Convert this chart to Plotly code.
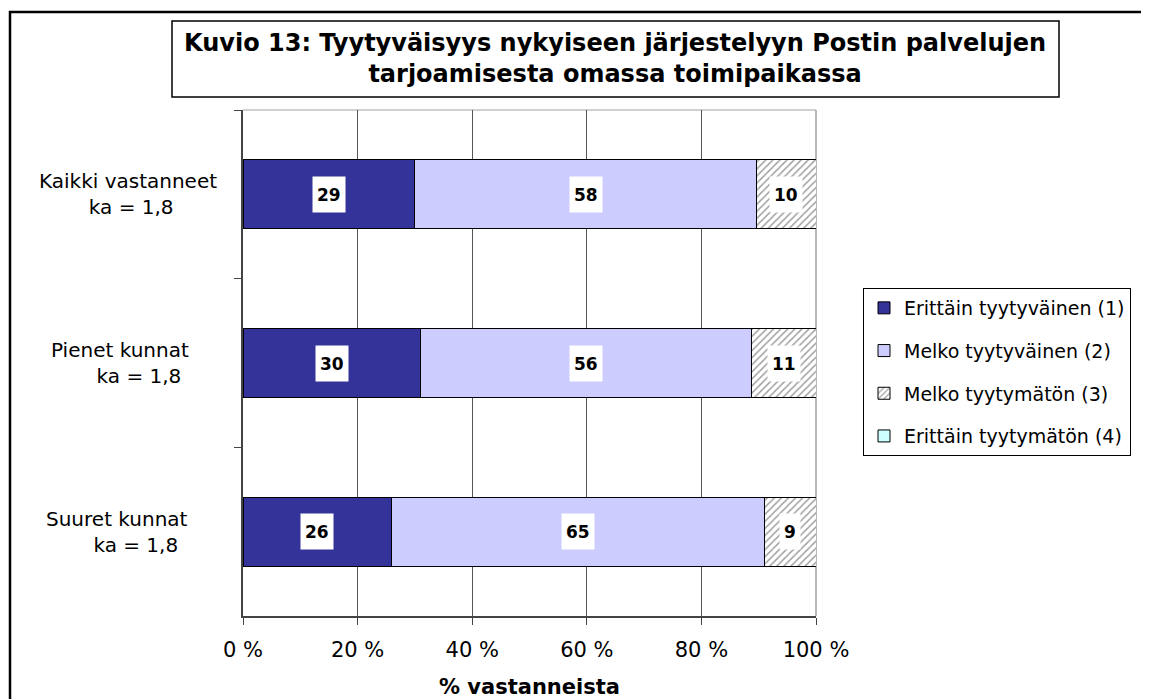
import plotly.graph_objects as go

# ---- data ----
group_names = ["Kaikki vastanneet", "Pienet kunnat", "Suuret kunnat"]
group_means = ["1,8", "1,8", "1,8"]
label_indent = [1, 6, 6]  # leading spaces on second label line, as in the original

series_names = ["Erittäin tyytyväinen (1)", "Melko tyytyväinen (2)",
                "Melko tyytymätön (3)", "Erittäin tyytymätön (4)"]
erittain_tyytyvainen = [29, 30, 26]
melko_tyytyvainen = [58, 56, 65]
melko_tyytymaton = [10, 11, 9]
erittain_tyytymaton = [0, 0, 0]
x_ticks = [0, 20, 40, 60, 80, 100]

title_text = ("Kuvio 13: Tyytyväisyys nykyiseen järjestelyyn Postin palvelujen<br>"
              "tarjoamisesta omassa toimipaikassa")
x_title = "% vastanneista"

# ---- layout helpers (screen coords -> figure coords; page body has 8px margin) ----
OFF = 8
W, H = 1141, 691
L, R, T, B = 243 - OFF, 816 - OFF, 110 - OFF, 616 - OFF
def px(x):
    return ((x - OFF) - L) / (R - L)
def py(y):
    return (B - (y - OFF)) / (B - T)

FONT = "DejaVu Sans"
series = [erittain_tyytyvainen, melko_tyytyvainen, melko_tyytymaton, erittain_tyytymaton]
colors = ["#333399", "#CCCCFF", "#FFFFFF", "#CCFFFF"]
cats = group_names

fig = go.Figure()
for i, (name, vals, col) in enumerate(zip(series_names, series, colors)):
    marker = dict(color=col, line=dict(color="black", width=1))
    if i == 2:
        marker["pattern"] = dict(shape="/", fgcolor="#444444", bgcolor="white",
                                 size=5, solidity=0.3)
    fig.add_trace(go.Bar(
        y=cats, x=vals, name=name, orientation="h", marker=marker,
        legendgroup=f"g{i}", hoverinfo="x+name", width=0.41,
    ))

# value labels in white boxes, centred on each segment
annotations = []
for j, cat in enumerate(cats):
    total = sum(s[j] for s in series)
    cum = 0
    for s in series:
        v = s[j]
        if v > 0:
            center = (cum + v / 2) / total * 100
            annotations.append(dict(
                x=center, y=cat, xref="x", yref="y", text=f"<b>{v}</b>",
                showarrow=False, bgcolor="white", borderpad=4, height=27,
                font=dict(family=FONT, size=17, color="black"),
            ))
        cum += v

# category labels
label_x = [128, 120, 117]
for j, cat in enumerate(cats):
    line2 = "\u00a0" * label_indent[j] + f"ka = {group_means[j]}"
    annotations.append(dict(
        x=px(label_x[j]), y=cat, xref="paper", yref="y",
        text=f"{group_names[j]}<br>{line2}", showarrow=False,
        align="center", xanchor="center", yanchor="middle",
        font=dict(family=FONT, size=20, color="black"),
    ))

# title
annotations.append(dict(
    x=px(615), y=py(59), xref="paper", yref="paper", text=f"<b>{title_text}</b>",
    showarrow=False, align="center", xanchor="center", yanchor="middle",
    font=dict(family=FONT, size=24, color="black"),
))

# x-axis title
annotations.append(dict(
    x=0.5, y=py(687), xref="paper", yref="paper", text=f"<b>{x_title}</b>",
    showarrow=False, xanchor="center", yanchor="middle",
    font=dict(family=FONT, size=21, color="black"),
))

shapes = [
    # outer frame
    dict(type="rect", xref="paper", yref="paper", x0=px(10), x1=px(1146),
         y0=py(715), y1=py(12), line=dict(color="black", width=2.5),
         fillcolor="rgba(0,0,0,0)", layer="above"),
    # title box
    dict(type="rect", xref="paper", yref="paper", x0=px(172), x1=px(1059),
         y0=py(97), y1=py(21), line=dict(color="black", width=1.5),
         fillcolor="rgba(0,0,0,0)", layer="above"),
    # plot area top/right border (light grey)
    dict(type="line", xref="paper", yref="paper", x0=0, x1=1, y0=1, y1=1,
         line=dict(color="#C0C0C0", width=1.5), layer="below"),
    dict(type="line", xref="paper", yref="paper", x0=1, x1=1, y0=0, y1=1,
         line=dict(color="#A0A0A0", width=1.5), layer="below"),
]

fig.update_layout(
    width=W, height=H,
    margin=dict(l=L, r=W - R, t=T, b=H - B, pad=0, autoexpand=False),
    paper_bgcolor="white", plot_bgcolor="white",
    barmode="stack", barnorm="percent",
    font=dict(family=FONT, size=20, color="black"),
    showlegend=True,
    legend=dict(
        x=px(863), y=py(288), xanchor="left", yanchor="top",
        bordercolor="black", borderwidth=1, bgcolor="white",
        font=dict(family=FONT, size=19, color="black"),
        traceorder="grouped", tracegroupgap=15,
    ),
    annotations=annotations,
    shapes=shapes,
)

fig.update_xaxes(
    range=[0, 100], tickvals=x_ticks, ticktext=[f"{t} %" for t in x_ticks],
    showgrid=True, gridcolor="#555555", gridwidth=1,
    zeroline=False, showline=True, linecolor="#444444", linewidth=1.5,
    ticks="outside", ticklen=7, tickcolor="#444444",
    tickfont=dict(family=FONT, size=21, color="black"),
    ticklabelstandoff=7, automargin=False,
    fixedrange=True,
)
fig.update_yaxes(
    categoryorder="array", categoryarray=cats, range=[2.5, -0.5],
    showgrid=False, zeroline=False, showline=True, linecolor="#444444", linewidth=1.5,
    ticks="outside", tickson="boundaries", ticklen=7, tickcolor="#444444",
    showticklabels=False, fixedrange=True, automargin=False,
)

fig.write_html("out.html")
